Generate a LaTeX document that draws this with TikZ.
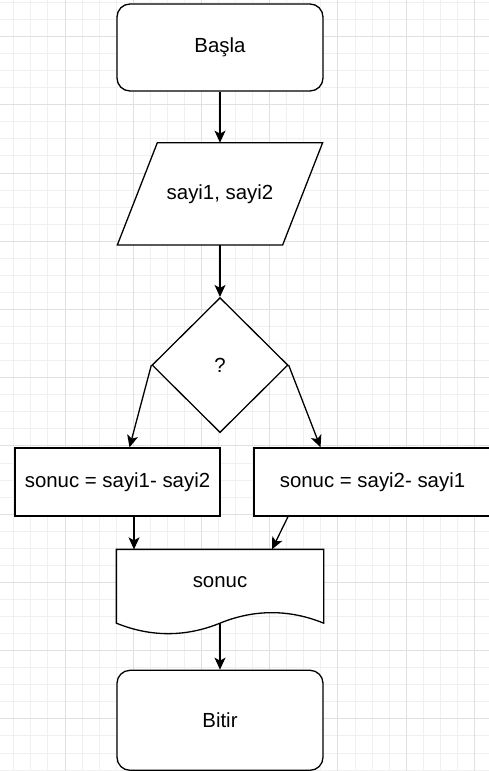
\documentclass[tikz,border=0pt]{standalone}
\usepackage{fontspec}
\setmainfont{Liberation Sans}
\usetikzlibrary{arrows.meta,positioning,calc,shapes.geometric}

\begin{document}
\begin{tikzpicture}[x=1pt,y=-1pt,>={Stealth[length=12pt,width=11pt,inset=3pt]},line width=1.3pt,font=\fontsize{20.4}{24}\selectfont]
  \tikzset{term/.style={draw,rounded corners=13pt,minimum width=206pt,minimum height=87pt,inner sep=0pt},
    islem/.style={draw,rectangle,minimum height=68pt,inner sep=0pt},
    karar/.style={draw,diamond,minimum width=136pt,minimum height=135pt,inner sep=0pt},
    minor/.style={line width=1pt,draw=black!6},
    major/.style={line width=1pt,draw=black!12}}
  \useasboundingbox (0,0) rectangle (489,771);
  % grid
  \foreach \i in {0,...,29} \draw[minor] (-3.24+17.06*\i,0) -- ++(0,771);
  \foreach \i in {0,...,48} \draw[minor] (0,-31.72+17.06*\i) -- ++(489,0);
  \foreach \i in {0,4,...,28} \draw[major] (-3.24+17.06*\i,0) -- ++(0,771);
  \foreach \i in {0,4,...,48} \draw[major] (0,-31.72+17.06*\i) -- ++(489,0);
  % nodes
  \node[term,fill=white] (b) at (220,47.5) {Başla};
  \node[minimum width=204pt,minimum height=101pt,inner sep=0pt,below=51pt of b] (g) {};
  \filldraw[fill=white] ($(g.north west)+(40,0)$) -- (g.north east) -- ($(g.south east)+(-40,0)$) -- (g.south west) -- cycle;
  \node at (g) {sayi1, sayi2};
  \node[karar,fill=white,below=52pt of g] (d) {?};
  \node[islem,fill=white,minimum width=205pt] (l) at (117.5,482) {sonuc = sayi1- sayi2};
  \node[islem,fill=white,minimum width=237pt] (r) at (372.5,482) {sonuc = sayi2- sayi1};
  \node[minimum width=206pt,minimum height=64pt,inner sep=0pt] (s) at (220,582) {};
  \filldraw[fill=white] (s.north west) -- (s.north east) -- ($(s.south east)+(0,8.5)$)
    .. controls ($(s.south east)+(-34.3,-5.5)$) and ($(s.south)+(34.3,-5.5)$) .. ($(s.south)+(0,8.5)$)
    .. controls ($(s.south)+(-34.3,22.5)$) and ($(s.south west)+(34.3,22.5)$) .. ($(s.south west)+(0,8.5)$) -- cycle;
  \node at (s) {sonuc};
  \node[term,fill=white,minimum height=100pt,below=55pt of s] (e) {Bitir};
  % arrows
  \draw[->] (b) -- (g);
  \draw[->] (g) -- (d);
  \draw[->] (d.west) -- ([xshift=12pt]l.north);
  \draw[->] (d.east) -- ([xshift=-52pt]r.north);
  \draw[->] ([xshift=16.5pt]l.south) -- ([xshift=16.5pt]l.south |- s.north);
  \draw[->] ([xshift=-84.5pt]r.south) -- ([xshift=52pt]s.north);
  \draw[->] ($(s.south)+(0,8.5)$) -- (e);
\end{tikzpicture}
\end{document}
